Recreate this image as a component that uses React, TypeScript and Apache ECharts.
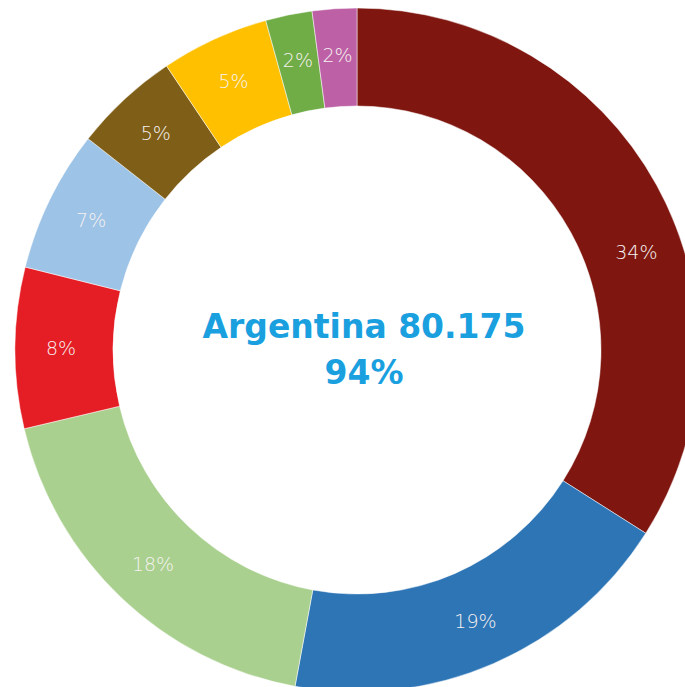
import React, { useEffect, useRef } from "react";
import * as echarts from "echarts";

const categories = ["A", "B", "C", "D", "E", "F", "G", "H", "I"];
const values = [34.0, 18.9, 18.4, 7.6, 6.7, 5.0, 5.1, 2.2, 2.1];
const colors = ["#7f1710", "#2e75b6", "#a9d08e", "#e51d24", "#9dc3e6", "#7f5f17", "#ffc000", "#70ad47", "#bd60a6"];
const centerLines = ["Argentina 80.175", "94%"];

export default function App() {
  const ref = useRef<HTMLDivElement>(null);
  useEffect(() => {
    if (!ref.current) return;
    const chart = echarts.init(ref.current, null, { renderer: "svg" });
    chart.setOption({
      animation: false,
      backgroundColor: "#ffffff",
      graphic: [
        {
          type: "text",
          x: 364,
          y: 326,
          style: {
            text: centerLines[0],
            fill: "#1aa0df",
            fontFamily: "'DejaVu Sans', sans-serif",
            fontWeight: "bold",
            fontSize: 33,
            textAlign: "center",
            textVerticalAlign: "middle",
          },
        },
        {
          type: "text",
          x: 364,
          y: 372,
          style: {
            text: centerLines[1],
            fill: "#1aa0df",
            fontFamily: "'DejaVu Sans', sans-serif",
            fontWeight: "bold",
            fontSize: 33,
            textAlign: "center",
            textVerticalAlign: "middle",
          },
        },
      ],
      series: [
        {
          type: "pie",
          center: [357, 350],
          radius: [244, 342],
          startAngle: 90,
          clockwise: true,
          silent: true,
          itemStyle: { borderColor: "#ffffff", borderWidth: 0.5 },
          label: {
            show: true,
            position: "inside",
            color: "#f7f2f2",
            fontFamily: "'DejaVu Sans', sans-serif",
            fontWeight: 200,
            fontSize: 19,
            formatter: (p: any) => Math.round(p.percent) + "%",
          },
          labelLayout: (p: any) => (p.dataIndex === 0 ? { dx: 20, dy: 45 } : {}),
          labelLine: { show: false },
          data: categories.map((c, i) => ({
            name: c,
            value: values[i],
            itemStyle: { color: colors[i] },
          })),
        },
      ],
    });
    return () => chart.dispose();
  }, []);
  return (
    <div
      ref={ref}
      style={{ position: "fixed", left: 0, top: 0, width: 685, height: 687 }}
    />
  );
}
